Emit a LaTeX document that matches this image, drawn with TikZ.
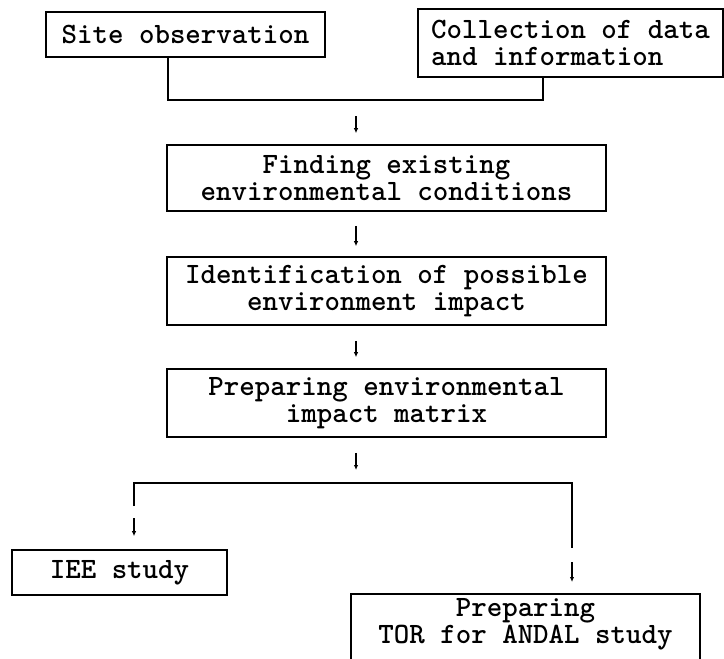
\documentclass[tikz,border=0pt]{standalone}
\usetikzlibrary{arrows.meta}
\lineskiplimit=-30pt
\begin{document}
\begin{tikzpicture}[x=1pt, y=-1pt,
	box/.style={draw, line width=1.6pt, inner sep=0pt, align=center, font=\ttfamily\bfseries\fontsize{29.5}{27}\selectfont},
	link/.style={line width=1.6pt},
	arr/.style={line width=1.2pt, -{Latex[length=5pt,width=4.5pt]}}]
	\useasboundingbox (0,0) rectangle (724,659);

	\node[box, minimum width=279pt, minimum height=45pt] (site) at (185.5,34.5) {Site observation};
	\node[box, minimum width=305pt, minimum height=68pt, align=left] (coll) at (570.5,43) {Collection of data\\and information};
	\node[box, minimum width=439pt, minimum height=66pt] (find) at (386.5,178) {Finding existing\\environmental conditions};
	\node[box, minimum width=439pt, minimum height=68pt] (ident) at (386.5,291) {Identification of possible\\environment impact};
	\node[box, minimum width=439pt, minimum height=68pt] (matrix) at (386.5,403) {Preparing environmental\\impact matrix};
	\node[box, minimum width=215pt, minimum height=45pt] (iee) at (119.5,572.5) {IEE study};
	\node[box, draw=none, anchor=north, minimum width=347pt, inner ysep=4pt] (tor) at (525.5,594) {Preparing\\TOR for ANDAL study};
	\draw[link] ([yshift=-80pt]tor.north west) -- (tor.north west) -- (tor.north east) -- ([yshift=-80pt]tor.north east);

	\coordinate (join) at (356,100);
	\coordinate (fork) at (356,483);
	\coordinate (lbr) at (134,506);
	\coordinate (rbr) at (572,548);

	\draw[link] ([xshift=-17.5pt]site.south) |- (join) -| ([xshift=-27.5pt]coll.south);
	\draw[link] (lbr) |- (fork) -| (rbr);

	\draw[arr] ([yshift=-16pt]join) -- ([yshift=11pt]find.north -| join);
	\draw[arr] ([yshift=-14pt]find.south -| join) -- ([yshift=10pt]ident.north -| join);
	\draw[arr] ([yshift=-15pt]ident.south -| join) -- ([yshift=11pt]matrix.north -| join);
	\draw[arr] ([yshift=-15pt]matrix.south -| join) -- ([yshift=13pt]fork);
	\draw[arr] ([yshift=-12pt]lbr) -- ([yshift=13pt]lbr |- iee.north);
	\draw[arr] ([yshift=-14pt]rbr) -- ([yshift=12pt]rbr |- tor.north);
\end{tikzpicture}
\end{document}
